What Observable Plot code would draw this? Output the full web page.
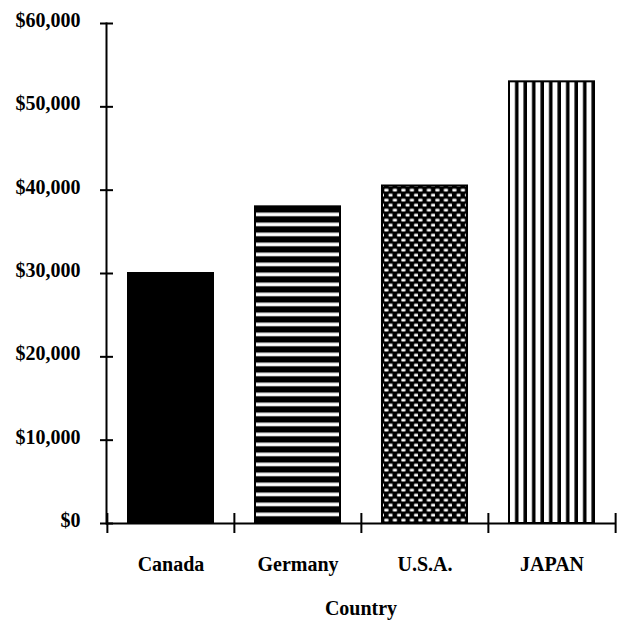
<!DOCTYPE html>
<html><head><meta charset="utf-8">
<script src="https://cdn.jsdelivr.net/npm/d3@7"></script>
<script src="https://cdn.jsdelivr.net/npm/@observablehq/plot@0.6"></script>
<style>body{margin:0;background:#fff}</style>
</head><body><div id="chart"></div>
<script>
const countries = ["Canada", "Germany", "U.S.A.", "JAPAN"];
const incomes = [30000, 38000, 40500, 53000];
const yTicks = [0, 10000, 20000, 30000, 40000, 50000, 60000];
const patternFills = ["#000", "url(#hstripes)", "url(#dots)", "url(#vstripes)"];
const xTitle = "Country";

const data = countries.map((c, i) => ({country: c, income: incomes[i]}));

const W = 617, H = 627, ml = 106, mr = 2, mt = 23, mb = 104;
const step = (W - ml - mr) / countries.length;
const font = "'Liberation Serif', 'DejaVu Serif', serif";

const plot = Plot.plot({
  width: W, height: H,
  marginLeft: ml, marginRight: mr, marginTop: mt, marginBottom: mb,
  style: {fontFamily: font, fontWeight: "bold", background: "white", color: "black"},
  x: {domain: countries, paddingInner: 0.332, paddingOuter: 0.166},
  y: {domain: [0, 60000]},
  color: {type: "ordinal", domain: countries, range: patternFills},
  marks: [
    Plot.barY(data, {x: "country", y: "income", fill: "country", stroke: "black", strokeWidth: 2}),
    Plot.frame({anchor: "left", strokeWidth: 2}),
    Plot.ruleY([0], {strokeWidth: 2}),
    Plot.axisY({ticks: yTicks, tickSize: 13, dx: 7, tickFormat: () => "", strokeWidth: 2, label: null}),
    Plot.axisY({ticks: yTicks, tickSize: 0, tickPadding: 26, tickFormat: d => "$" + d3.format(",")(d), fontSize: 20, dy: -3, label: null}),
    Plot.axisX({ticks: countries, tickSize: 20, dx: -step / 2, dy: -10, tickFormat: () => "", strokeWidth: 2, label: null}),
    Plot.axisX({ticks: countries.slice(-1), tickSize: 20, dx: step / 2, dy: -10, tickFormat: () => "", strokeWidth: 2, label: null}),
    Plot.axisX({tickSize: 0, tickPadding: 33, fontSize: 20, label: xTitle, labelAnchor: "center", labelOffset: 91})
  ]
});

// pattern definitions (styles)
const xs = plot.scale("x");
const ys = plot.scale("y");
const svg = d3.select(plot);
const defs = svg.insert("defs", ":first-child");

const hs = defs.append("pattern").attr("id", "hstripes").attr("patternUnits", "userSpaceOnUse")
  .attr("x", 0).attr("y", ys.apply(incomes[1])).attr("width", 10).attr("height", 10);
hs.append("rect").attr("width", 10).attr("height", 10).attr("fill", "#000");
hs.append("rect").attr("y", 6.3).attr("width", 10).attr("height", 3.6).attr("fill", "#fff");

const vs = defs.append("pattern").attr("id", "vstripes").attr("patternUnits", "userSpaceOnUse")
  .attr("x", xs.apply(countries[3]) + 1).attr("y", 0).attr("width", 8.5).attr("height", 10);
vs.append("rect").attr("width", 8.5).attr("height", 10).attr("fill", "#fff");
vs.append("rect").attr("x", 5).attr("width", 3.6).attr("height", 10).attr("fill", "#000");

const ds = defs.append("pattern").attr("id", "dots").attr("patternUnits", "userSpaceOnUse")
  .attr("x", xs.apply(countries[2]) + 2).attr("y", ys.apply(incomes[2]) + 2).attr("width", 8.5).attr("height", 10);
ds.append("rect").attr("width", 8.5).attr("height", 10).attr("fill", "#000");
ds.append("rect").attr("x", 0.2).attr("y", 1.2).attr("width", 4.4).attr("height", 2.7).attr("rx", 1.2).attr("fill", "#fff");
ds.append("rect").attr("x", 4.45).attr("y", 6.2).attr("width", 4.4).attr("height", 2.7).attr("rx", 1.2).attr("fill", "#fff");

document.getElementById("chart").appendChild(plot);
</script>
</body></html>
